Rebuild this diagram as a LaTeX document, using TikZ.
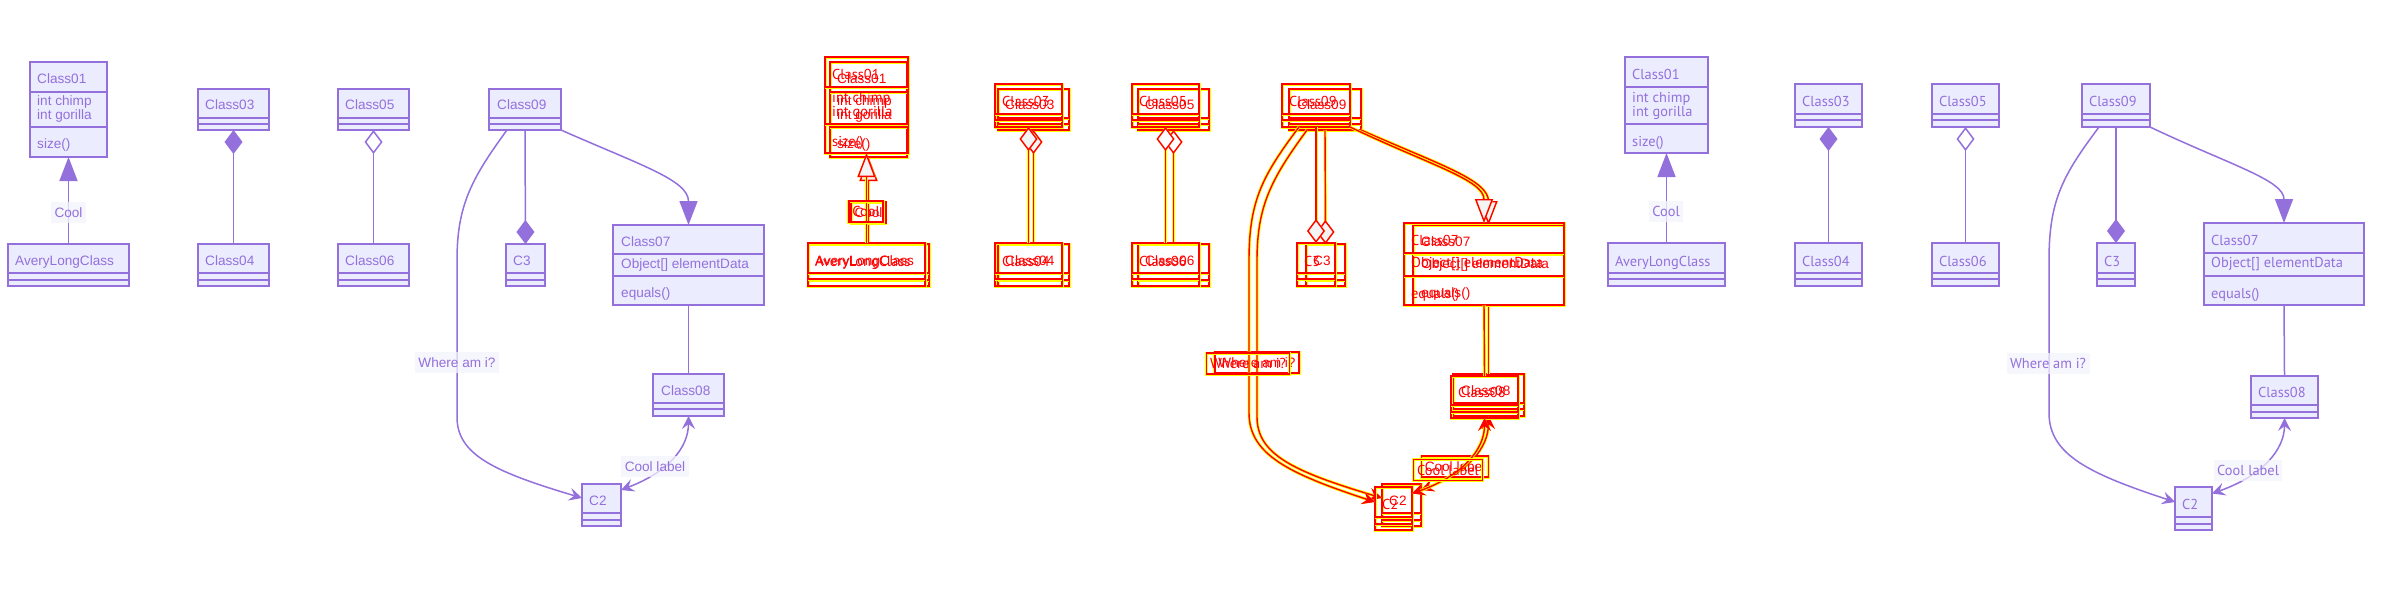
\documentclass[tikz,border=0pt]{standalone}
\usepackage{fontspec}
\setmainfont{Liberation Sans}
\newfontfamily\fA{Liberation Sans}
\newfontfamily\fB{PT Sans}
\usetikzlibrary{arrows.meta}
\definecolor{mp}{HTML}{9370DB}
\definecolor{mf}{HTML}{ECECFF}
\definecolor{mlb}{HTML}{F4F4FD}
\definecolor{dred}{HTML}{FF0000}
\definecolor{dyel}{HTML}{FFFF00}
\definecolor{dgray}{HTML}{F4F4F4}
\tikzset{
 cbox/.style={draw=mp, fill=mf, line width=1.5pt, inner sep=0pt, outer sep=0pt},
 cdiv/.style={draw=mp, line width=1.5pt},
 ctext/.style={anchor=west, inner sep=0pt, text=mp, text height=10pt, text depth=0pt},
 conn/.style={draw=mp, line width=1.5pt},
 lbl/.style={fill=mlb, fill opacity=0.75, text opacity=1, text=mp, inner xsep=3.5pt, inner ysep=0pt, minimum height=21pt, text height=10pt, text depth=0pt},
 inh/.style={-{Triangle[length=24pt,width=18pt,fill=mp]}},
 comp/.style={-{Diamond[length=24pt,width=18pt,fill=mp]}},
 aggr/.style={-{Diamond[length=24pt,width=18pt,fill=white]}},
 assoc/.style={-{Stealth[length=13pt,width=13pt,inset=5pt]}},
 bothend/.style={{Stealth[length=13pt,width=13pt,inset=5pt]}-{Stealth[length=13pt,width=13pt,inset=5pt]}},
}
% name, x1, y1, x2, y2, divider1, divider2
\newcommand\cls[7]{%
 \node[cbox, anchor=north west, minimum width={(#4-#2)*1pt}, minimum height={(#5-#3)*1pt}] (#1) at (#2,#3) {};
 \draw[cdiv] (#2,#6) -- (#4,#6);
 \draw[cdiv] (#2,#7) -- (#4,#7);
}
\newcommand\panelA[1]{%
\begin{scope}[every node/.append style={font=\fA\fontsize{13.6pt}{16pt}\selectfont}]
 \cls{#1c01}{30}{62}{107}{157}{92}{127}
 \node[ctext] (#1c01a) at (37,78) {Class01};
 \node[ctext] (#1c01b) at (37,100) {int chimp};
 \node[ctext] (#1c01c) at (37,114) {int gorilla};
 \node[ctext] (#1c01d) at (37,143) {size()};
 \cls{#1av}{8}{244}{129}{286}{273}{280}
 \node[ctext] (#1avt) at (15,260) {AveryLongClass};
 \cls{#1c03}{198}{89}{269}{130}{118}{124}
 \node[ctext] (#1c03t) at (205,104) {Class03};
 \cls{#1c04}{198}{244}{269}{286}{273}{280}
 \node[ctext] (#1c04t) at (205,260) {Class04};
 \cls{#1c05}{338}{89}{409}{130}{118}{124}
 \node[ctext] (#1c05t) at (345,104) {Class05};
 \cls{#1c06}{338}{244}{409}{286}{273}{280}
 \node[ctext] (#1c06t) at (345,260) {Class06};
 \cls{#1c09}{489}{89}{561}{130}{118}{124}
 \node[ctext] (#1c09t) at (497,104) {Class09};
 \cls{#1c3}{506}{244}{545}{286}{273}{280}
 \node[ctext] (#1c3t) at (513,260) {C3};
 \cls{#1c07}{613}{225}{764}{305}{254}{276}
 \node[ctext] (#1c07a) at (621,241) {Class07};
 \node[ctext] (#1c07b) at (621,263) {Object[] elementData};
 \node[ctext] (#1c07c) at (621,292) {equals()};
 \cls{#1c08}{653}{374}{724}{416}{403}{409}
 \node[ctext] (#1c08t) at (661,390) {Class08};
 \cls{#1c2}{582}{484}{621}{526}{513}{520}
 \node[ctext] (#1c2t) at (589,500) {C2};
 \draw[conn,inh] (#1av.north) -- (#1c01.south);
 \draw[conn,comp] (#1c04.north) -- (#1c03.south);
 \draw[conn,aggr] (#1c06.north) -- (#1c05.south);
 \draw[conn,comp] (#1c09.south) -- (#1c3.north);
 \draw[conn,inh] (#1c09.south east) .. controls (640,165) and (688.5,180) .. (#1c07.north);
 \draw[conn] (#1c07.south) -- (#1c08.north);
 \draw[conn,assoc] ([xshift=18pt]#1c09.south west) .. controls (472,178) and (457,205) .. (457,260) -- (457,417) .. controls (457,455) and (495,472) .. ([yshift=7pt]#1c2.west);
 \draw[conn,bothend] (#1c08.south) .. controls (688.5,448) and (668,472) .. ([yshift=15pt]#1c2.east);
 \node[lbl] (#1l1) at (68.5,212.5) {Cool};
 \node[lbl] (#1l2) at (457,362.5) {Where am i?};
 \node[lbl] (#1l3) at (655,466.5) {Cool label};
\end{scope}}
\newcommand\panelB[1]{%
\begin{scope}[every node/.append style={font=\fB\fontsize{14.4pt}{17pt}\selectfont}]
 \cls{#1c01}{25}{57}{108}{153}{87}{124}
 \node[ctext] (#1c01a) at (32,74) {Class01};
 \node[ctext] (#1c01b) at (32,97) {int chimp};
 \node[ctext] (#1c01c) at (32,111) {int gorilla};
 \node[ctext] (#1c01d) at (32,141) {size()};
 \cls{#1av}{8}{243}{125}{286}{273}{279}
 \node[ctext] (#1avt) at (15,261) {AveryLongClass};
 \cls{#1c03}{195}{84}{262}{127}{114}{120}
 \node[ctext] (#1c03t) at (202,101) {Class03};
 \cls{#1c04}{195}{243}{262}{286}{273}{279}
 \node[ctext] (#1c04t) at (202,261) {Class04};
 \cls{#1c05}{332}{84}{399}{127}{114}{120}
 \node[ctext] (#1c05t) at (339,101) {Class05};
 \cls{#1c06}{332}{243}{399}{286}{273}{279}
 \node[ctext] (#1c06t) at (339,261) {Class06};
 \cls{#1c09}{482}{84}{550}{127}{114}{120}
 \node[ctext] (#1c09t) at (489,101) {Class09};
 \cls{#1c3}{497}{243}{535}{286}{273}{279}
 \node[ctext] (#1c3t) at (504,261) {C3};
 \cls{#1c07}{604}{223}{764}{305}{253}{276}
 \node[ctext] (#1c07a) at (611,240) {Class07};
 \node[ctext] (#1c07b) at (611,262) {Object[] elementData};
 \node[ctext] (#1c07c) at (611,293) {equals()};
 \cls{#1c08}{651}{376}{718}{418}{405}{412}
 \node[ctext] (#1c08t) at (658,392) {Class08};
 \cls{#1c2}{575}{487}{612}{530}{517}{524}
 \node[ctext] (#1c2t) at (582,504) {C2};
 \draw[conn,inh] (#1av.north) -- (#1c01.south);
 \draw[conn,comp] (#1c04.north) -- (#1c03.south);
 \draw[conn,aggr] (#1c06.north) -- (#1c05.south);
 \draw[conn,comp] (#1c09.south) -- (#1c3.north);
 \draw[conn,inh] (#1c09.south east) .. controls (630,165) and (684,180) .. (#1c07.north);
 \draw[conn] (#1c07.south) -- (#1c08.north);
 \draw[conn,assoc] ([xshift=17pt]#1c09.south west) .. controls (463,175) and (449,200) .. (449,260) -- (449,413) .. controls (449,455) and (490,474) .. ([yshift=6.5pt]#1c2.west);
 \draw[conn,bothend] (#1c08.south) .. controls (684.5,450) and (662,476) .. ([yshift=15pt]#1c2.east);
 \node[lbl] (#1l1) at (66,211.5) {Cool};
 \node[lbl] (#1l2) at (448,363.5) {Where am i?};
 \node[lbl] (#1l3) at (648,470) {Cool label};
\end{scope}}
\begin{document}
\begin{tikzpicture}[x=1pt,y=-1pt]
 \fill[white] (0,0) rectangle (2400,600);
 \useasboundingbox (0,0) rectangle (2400,600);
 % left render
 \panelA{L}
 % difference render
 \begin{scope}[xshift=800pt,
   cbox/.style={draw=dred, line width=1.4pt, inner sep=0pt, outer sep=0pt, preaction={draw=dyel, line width=3pt}},
   cdiv/.style={draw=dred, line width=1.4pt, preaction={draw=dyel, line width=3pt}},
   ctext/.style={anchor=west, inner sep=0pt, text=dred, text height=10pt, text depth=0pt},
   conn/.style={draw=dred, line width=1.4pt, preaction={draw=dyel, line width=3pt}},
   lbl/.style={draw=dred, line width=1.4pt, text=dred, inner xsep=3.5pt, inner ysep=0pt, minimum height=21pt, text height=10pt, text depth=0pt, preaction={draw=dyel, line width=3pt}},
   inh/.style={-{Triangle[length=24pt,width=18pt,fill=dgray]}},
   comp/.style={-{Diamond[length=24pt,width=18pt,fill=dgray]}},
   aggr/.style={-{Diamond[length=24pt,width=18pt,fill=white]}}]
  \panelA{MA}
  \panelB{MB}
 \end{scope}
 % right render
 \begin{scope}[xshift=1600pt]
  \panelB{R}
 \end{scope}
\end{tikzpicture}
\end{document}
